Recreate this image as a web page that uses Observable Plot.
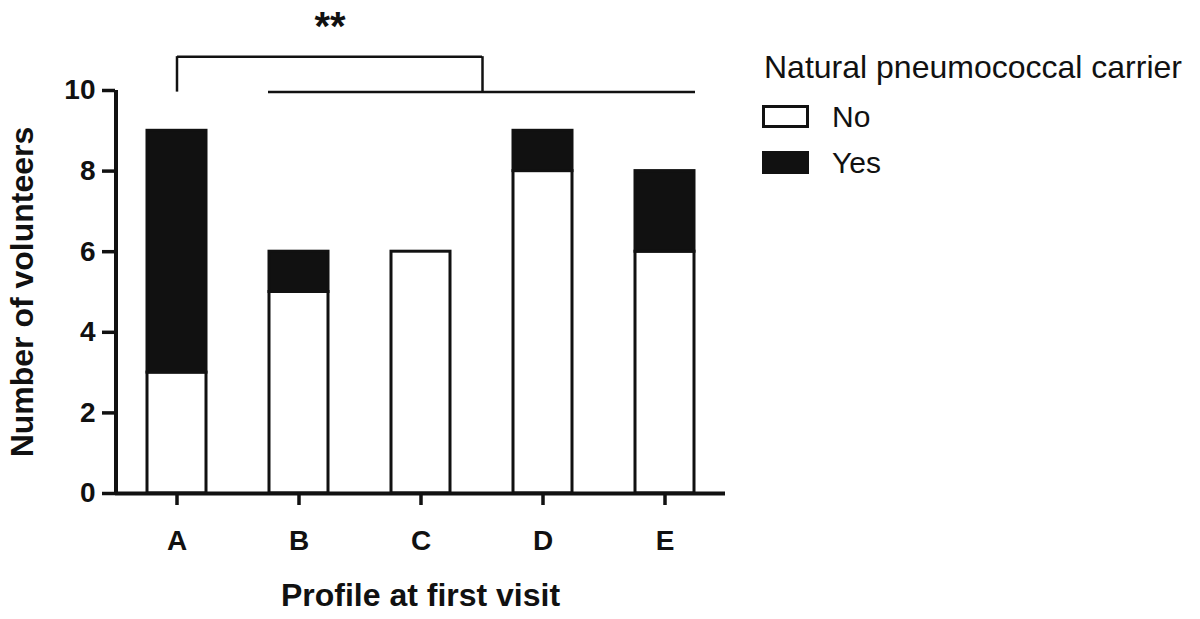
<!DOCTYPE html>
<html><head><meta charset="utf-8">
<script src="https://cdn.jsdelivr.net/npm/d3@7"></script>
<script src="https://cdn.jsdelivr.net/npm/@observablehq/plot@0.6"></script>
<style>
html,body{margin:0;padding:0;background:#fff;overflow:hidden;}
#wrap{position:relative;width:1200px;height:619px;}
#legend{position:absolute;left:0;top:0;font-family:"Liberation Sans",Arial,Helvetica,sans-serif;color:#111;}
#legend div{position:absolute;white-space:nowrap;}
.lt{left:764px;top:48px;font-size:32px;line-height:38px;}
.sw{left:762px;width:41px;height:17px;border:3px solid #111;}
.lab{left:832px;font-size:30px;line-height:30px;}
</style></head><body><div id="wrap"></div>
<script>
const profiles = ["A","B","C","D","E"];
const carrierStatus = ["No","Yes"];
const noCounts = [3,5,6,8,6];
const yesCounts = [6,1,0,1,2];
const yTicks = [0,2,4,6,8,10];
const legendTitle = "Natural pneumococcal carrier";
const xLabel = "Profile at first visit";
const yLabel = "Number of volunteers";
const significance = "**";

const rows = [];
profiles.forEach((p, i) => {
  rows.push({profile: p, carrier: "No", count: noCounts[i]});
  rows.push({profile: p, carrier: "Yes", count: yesCounts[i]});
});

// significance bracket: A vs B–E
const bracketTop = 10.84, bracketLow = 9.96, starLevel = 11.56;
const ink = "#111";

const chart = Plot.plot({
  width: 1200, height: 619,
  marginTop: 90, marginBottom: 126, marginLeft: 115, marginRight: 475,
  style: {fontFamily: '"Liberation Sans", Arial, Helvetica, sans-serif', fontSize: "28px", fontWeight: "bold", color: ink, background: "transparent"},
  x: {type: "band", domain: profiles, paddingInner: 0.5, paddingOuter: 0.25},
  y: {domain: [0, 10]},
  color: {domain: carrierStatus, range: ["#ffffff", ink]},
  marks: [
    Plot.barY(rows, {x: "profile", y: "count", fill: "carrier", stroke: ink, strokeWidth: 3, insetLeft: 1, insetRight: 1}),
    Plot.ruleY([0], {stroke: ink, strokeWidth: 4}),
    Plot.ruleX([{x: profiles[0]}], {x: "x", y1: () => 0, y2: () => 10, dx: -61, stroke: ink, strokeWidth: 4}),
    Plot.axisX({tickSize: 12, tickPadding: 25, strokeWidth: 3.5, label: null}),
    Plot.axisY({ticks: yTicks, tickSize: 13, tickPadding: 7, strokeWidth: 3.5, label: null}),
    // bracket
    Plot.ruleY([{y: bracketTop, x1: "A", x2: "C"}], {y: "y", x1: "x1", x2: "x2", dx: 31, stroke: ink, strokeWidth: 2.5}),
    Plot.ruleY([{y: bracketLow, x1: "B", x2: "E"}], {y: "y", x1: "x1", x2: "x2", stroke: ink, strokeWidth: 2.5}),
    Plot.ruleX([{x: "A"}], {x: "x", y1: () => bracketLow, y2: () => bracketTop, stroke: ink, strokeWidth: 2.5}),
    Plot.ruleX([{x: "C"}], {x: "x", y1: () => bracketLow, y2: () => bracketTop, dx: 61.5, stroke: ink, strokeWidth: 2.5}),
    Plot.text([{x: "B", y: starLevel, t: significance}], {x: "x", y: "y", text: "t", dx: 31, fontSize: 40, fontWeight: "bold", fill: ink}),
    // axis titles
    Plot.text([yLabel], {text: d => d, frameAnchor: "left", textAnchor: "middle", lineAnchor: "middle", dx: -93, rotate: -90, fontSize: 32, fontWeight: "bold", fill: ink}),
    Plot.text([xLabel], {text: d => d, frameAnchor: "bottom", textAnchor: "middle", lineAnchor: "middle", dy: 102, fontSize: 32, fontWeight: "bold", fill: ink})
  ]
});
const wrap = document.getElementById("wrap");
wrap.appendChild(chart);

const legend = document.createElement("div");
legend.id = "legend";
legend.innerHTML = `<div class="lt">${legendTitle}</div>` +
  carrierStatus.map((c, i) => {
    const top = 105 + i * 46;
    const bg = i === 0 ? "#fff" : ink;
    return `<div class="sw" style="top:${top}px;background:${bg}"></div><div class="lab" style="top:${top - 3}px">${c}</div>`;
  }).join("");
wrap.appendChild(legend);
</script></body></html>
